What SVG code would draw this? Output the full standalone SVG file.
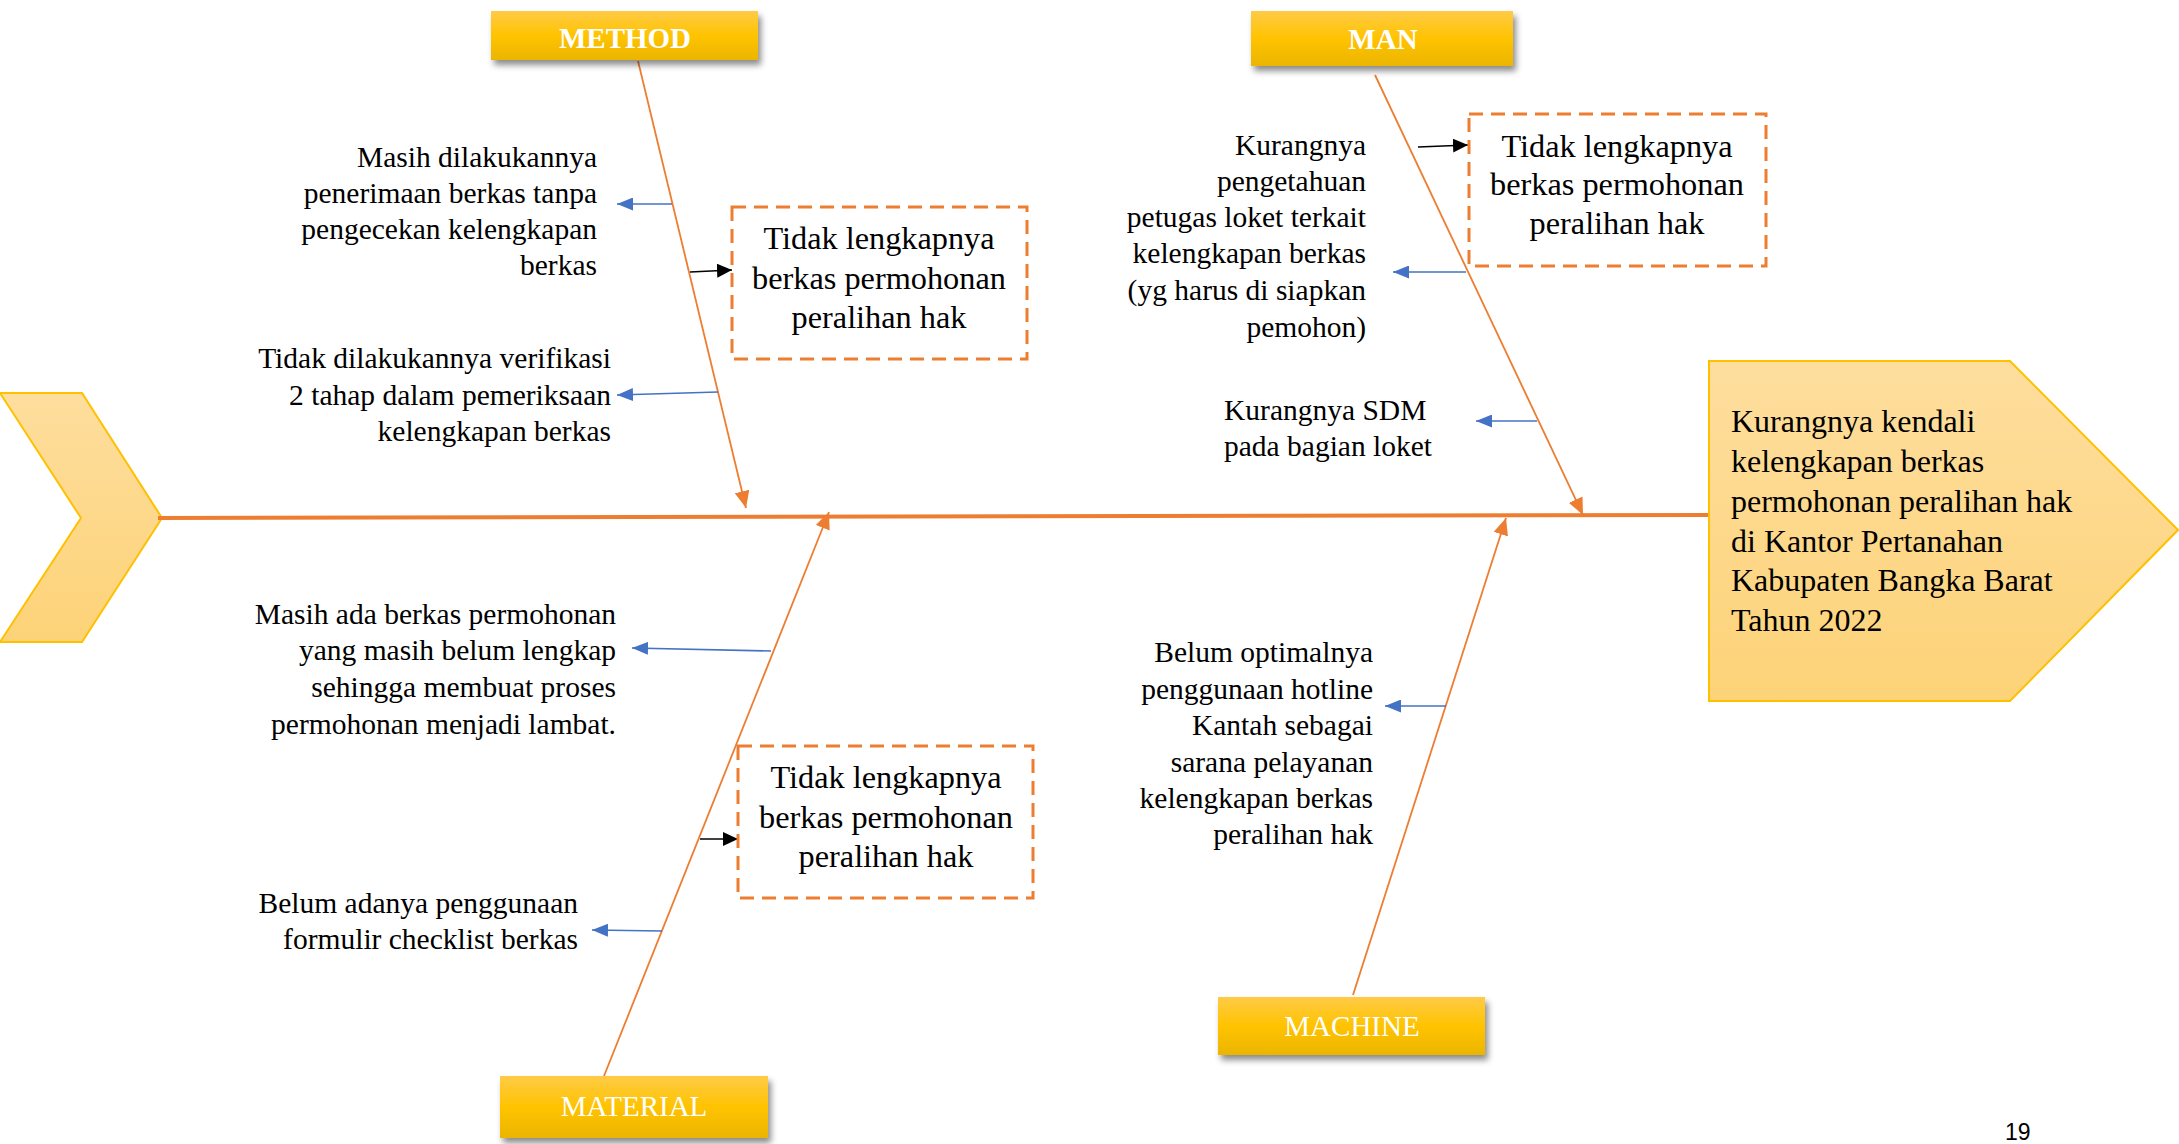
<svg xmlns="http://www.w3.org/2000/svg" width="2179" height="1144" viewBox="0 0 2179 1144">
<style>
.lbl{font-family:"Liberation Serif","Times New Roman",serif;font-size:29.5px;fill:#000}
.r{text-anchor:end}
.box{font-family:"Liberation Serif","Times New Roman",serif;font-size:32.3px;fill:#000;text-anchor:middle}
.cat{font-family:"Liberation Serif","Times New Roman",serif;font-size:29px;fill:#fff;text-anchor:middle}
.catb{font-weight:bold}
.dash{fill:none;stroke:#ED7D31;stroke-width:3;stroke-dasharray:14 8}
.bone{stroke:#ED7D31;stroke-width:1.8;fill:none;marker-end:url(#ao)}
.blue{stroke:#4472C4;stroke-width:1.6;fill:none;marker-end:url(#ab)}
.blk{stroke:#000;stroke-width:1.6;fill:none;marker-end:url(#ak)}
.catbox{fill:url(#gcat);filter:url(#sh)}
</style>
<defs>
<linearGradient id="gcat" x1="0" y1="0" x2="0" y2="1">
<stop offset="0" stop-color="#FFCB47"/>
<stop offset="0.5" stop-color="#FFC300"/>
<stop offset="1" stop-color="#EBB500"/>
</linearGradient>
<linearGradient id="ghead" x1="0" y1="0" x2="0" y2="1">
<stop offset="0" stop-color="#FEDE9E"/>
<stop offset="1" stop-color="#FDD378"/>
</linearGradient>
<filter id="sh" x="-10%" y="-30%" width="125%" height="170%">
<feDropShadow dx="3" dy="5" stdDeviation="3" flood-color="#000" flood-opacity="0.45"/>
</filter>
<marker id="ao" viewBox="0 0 17 15" refX="17" refY="7.5" markerWidth="17" markerHeight="15" markerUnits="userSpaceOnUse" orient="auto"><path d="M0,0 L17,7.5 L0,15 z" fill="#ED7D31"/></marker>
<marker id="ab" viewBox="0 0 16 13" refX="16" refY="6.5" markerWidth="16" markerHeight="13" markerUnits="userSpaceOnUse" orient="auto"><path d="M0,0 L16,6.5 L0,13 z" fill="#4472C4"/></marker>
<marker id="ak" viewBox="0 0 15 14" refX="15" refY="7" markerWidth="15" markerHeight="14" markerUnits="userSpaceOnUse" orient="auto"><path d="M0,0 L15,7 L0,14 z" fill="#000"/></marker>
</defs>
<rect width="2179" height="1144" fill="#fff"/>

<g id="tail">
<polygon points="0,393 82,393 162,518 82,642 0,642 81,518" fill="url(#ghead)" stroke="#FFC000" stroke-width="2"/>
</g>

<g id="connectors">
<line x1="158" y1="518" x2="1709" y2="515" stroke="#ED7D31" stroke-width="4"/>
<line class="bone" x1="638" y1="61" x2="746" y2="508"/>
<line class="bone" x1="604" y1="1076" x2="829" y2="512"/>
<line class="bone" x1="1375" y1="75" x2="1583" y2="515"/>
<line class="bone" x1="1353" y1="995" x2="1506" y2="518"/>
<line class="blue" x1="672" y1="204" x2="617" y2="204"/>
<line class="blue" x1="718" y1="392" x2="617" y2="395"/>
<line class="blue" x1="771" y1="651" x2="632" y2="648"/>
<line class="blue" x1="662" y1="931" x2="592" y2="930"/>
<line class="blue" x1="1466" y1="272" x2="1393" y2="272"/>
<line class="blue" x1="1537" y1="421" x2="1476" y2="421"/>
<line class="blue" x1="1446" y1="706" x2="1385" y2="706"/>
<line class="blk" x1="690" y1="272" x2="732" y2="270"/>
<line class="blk" x1="1418" y1="147" x2="1468" y2="145"/>
<line class="blk" x1="700" y1="839" x2="738" y2="839"/>
</g>

<g id="head">
<polygon points="1709,361 2010,361 2178,530 2010,701 1709,701" fill="url(#ghead)" stroke="#FFC000" stroke-width="2"/>
<text class="lbl" style="font-size:32px" x="1731"><tspan x="1731" y="432">Kurangnya kendali</tspan><tspan x="1731" y="472">kelengkapan berkas</tspan><tspan x="1731" y="512">permohonan peralihan hak</tspan><tspan x="1731" y="552">di Kantor Pertanahan</tspan><tspan x="1731" y="591">Kabupaten Bangka Barat</tspan><tspan x="1731" y="631">Tahun 2022</tspan></text>
</g>

<g id="method">
<rect class="catbox" x="491" y="11" width="267" height="49"/>
<text class="cat catb" x="625" y="48">METHOD</text>
</g>
<g id="man">
<rect class="catbox" x="1251" y="11" width="262" height="55"/>
<text class="cat catb" x="1383" y="49">MAN</text>
</g>
<g id="material">
<rect class="catbox" x="500" y="1076" width="268" height="62"/>
<text class="cat" x="634" y="1116">MATERIAL</text>
</g>
<g id="machine">
<rect class="catbox" x="1218" y="997" width="267" height="58"/>
<text class="cat" x="1352" y="1036">MACHINE</text>
</g>

<g id="effect-method">
<rect class="dash" x="732" y="207" width="295" height="152"/>
<text class="box"><tspan x="879" y="249">Tidak lengkapnya</tspan><tspan x="879" y="289">berkas permohonan</tspan><tspan x="879" y="328">peralihan hak</tspan></text>
</g>
<g id="effect-man">
<rect class="dash" x="1469" y="114" width="297" height="152"/>
<text class="box"><tspan x="1617" y="157">Tidak lengkapnya</tspan><tspan x="1617" y="195">berkas permohonan</tspan><tspan x="1617" y="234">peralihan hak</tspan></text>
</g>
<g id="effect-material">
<rect class="dash" x="738" y="746" width="295" height="152"/>
<text class="box"><tspan x="886" y="788">Tidak lengkapnya</tspan><tspan x="886" y="828">berkas permohonan</tspan><tspan x="886" y="867">peralihan hak</tspan></text>
</g>

<g id="cause-method-1">
<text class="lbl r"><tspan x="597" y="167">Masih dilakukannya</tspan><tspan x="597" y="203">penerimaan berkas tanpa</tspan><tspan x="597" y="239">pengecekan kelengkapan</tspan><tspan x="597" y="275">berkas</tspan></text>
</g>
<g id="cause-method-2">
<text class="lbl r"><tspan x="611" y="368">Tidak dilakukannya verifikasi</tspan><tspan x="611" y="405">2 tahap dalam pemeriksaan</tspan><tspan x="611" y="441">kelengkapan berkas</tspan></text>
</g>
<g id="cause-material-1">
<text class="lbl r"><tspan x="616" y="624">Masih ada berkas permohonan</tspan><tspan x="616" y="660">yang masih belum lengkap</tspan><tspan x="616" y="697">sehingga membuat proses</tspan><tspan x="616" y="734">permohonan menjadi lambat.</tspan></text>
</g>
<g id="cause-material-2">
<text class="lbl r"><tspan x="578" y="913">Belum adanya penggunaan</tspan><tspan x="578" y="949">formulir checklist berkas</tspan></text>
</g>
<g id="cause-man-1">
<text class="lbl r"><tspan x="1366" y="155">Kurangnya</tspan><tspan x="1366" y="191">pengetahuan</tspan><tspan x="1366" y="227">petugas loket terkait</tspan><tspan x="1366" y="263">kelengkapan berkas</tspan><tspan x="1366" y="300">(yg harus di siapkan</tspan><tspan x="1366" y="337">pemohon)</tspan></text>
</g>
<g id="cause-man-2">
<text class="lbl"><tspan x="1224" y="420">Kurangnya SDM</tspan><tspan x="1224" y="456">pada bagian loket</tspan></text>
</g>
<g id="cause-machine-1">
<text class="lbl r"><tspan x="1373" y="662">Belum optimalnya</tspan><tspan x="1373" y="699">penggunaan hotline</tspan><tspan x="1373" y="735">Kantah sebagai</tspan><tspan x="1373" y="772">sarana pelayanan</tspan><tspan x="1373" y="808">kelengkapan berkas</tspan><tspan x="1373" y="844">peralihan hak</tspan></text>
</g>

<text x="2005" y="1140" style="font-family:'Liberation Sans',Arial,sans-serif;font-size:23px;fill:#000">19</text>
</svg>
